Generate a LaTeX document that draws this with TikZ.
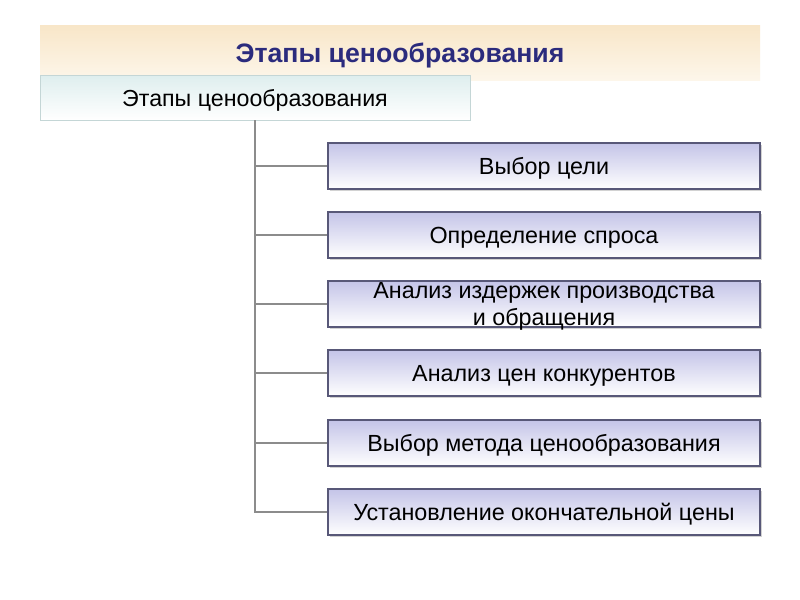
\documentclass[tikz,border=0pt]{standalone}
\usepackage{fontspec}
\setmainfont{Liberation Sans}
\usetikzlibrary{shadows}
\definecolor{bannerbeige}{RGB}{248,230,200}
\definecolor{bannerlight}{RGB}{253,246,234}
\definecolor{titlenavy}{RGB}{43,43,125}
\definecolor{headteal}{RGB}{222,238,238}
\definecolor{headedge}{RGB}{196,214,214}
\definecolor{stagelav}{RGB}{196,196,232}
\definecolor{stageedge}{RGB}{88,88,120}
\definecolor{branchgray}{RGB}{140,140,140}
\begin{document}
\begin{tikzpicture}[x=0.75pt,y=-0.75pt]

    \tikzset{
      banner/.style={
        top color=bannerbeige,
        bottom color=bannerlight,
        minimum width=540pt,
        minimum height=41.25pt,
        inner sep=0pt,
        text depth=0pt,
        font=\fontsize{20}{24}\selectfont\bfseries,
        text=titlenavy,
      },
      headbox/.style={
        draw=headedge,
        top color=headteal,
        bottom color=white,
        minimum width=322.5pt,
        minimum height=33.75pt,
        inner sep=0pt,
        text depth=0pt,
        font=\fontsize{17.4}{20}\selectfont,
      },
      stage/.style={
        draw=stageedge,
        thick,
        top color=stagelav,
        bottom color=white,
        drop shadow={shadow xshift=1.2pt,shadow yshift=-1.2pt,fill=black!35},
        minimum width=324pt,
        minimum height=34.5pt,
        inner sep=0pt,
        text depth=0pt,
        align=center,
        font=\fontsize{17.5}{20.5}\selectfont,
      },
      branch/.style={
        draw=branchgray,
        line width=1.8pt,
      },
    }
    \useasboundingbox[fill=white] (0,0) rectangle (800,600);

    \node[banner] (title) at (400,52.5) {Этапы ценообразования};
    \node[headbox] (head) at (255,97.5) {Этапы ценообразования};

    \node[stage] (s1) at (544,166) {Выбор цели};
    \node[stage] (s2) at (544,235) {Определение спроса};
    \node[stage] (s3) at (544,304) {Анализ издержек производства\\и обращения};
    \node[stage] (s4) at (544,373) {Анализ цен конкурентов};
    \node[stage] (s5) at (544,443) {Выбор метода ценообразования};
    \node[stage] (s6) at (544,512) {Установление окончательной цены};

    \draw[branch] (head.south) |- (s6.west);
    \draw[branch] (head.south |- s1.west) -- (s1.west);
    \draw[branch] (head.south |- s2.west) -- (s2.west);
    \draw[branch] (head.south |- s3.west) -- (s3.west);
    \draw[branch] (head.south |- s4.west) -- (s4.west);
    \draw[branch] (head.south |- s5.west) -- (s5.west);

\end{tikzpicture}
\end{document}
